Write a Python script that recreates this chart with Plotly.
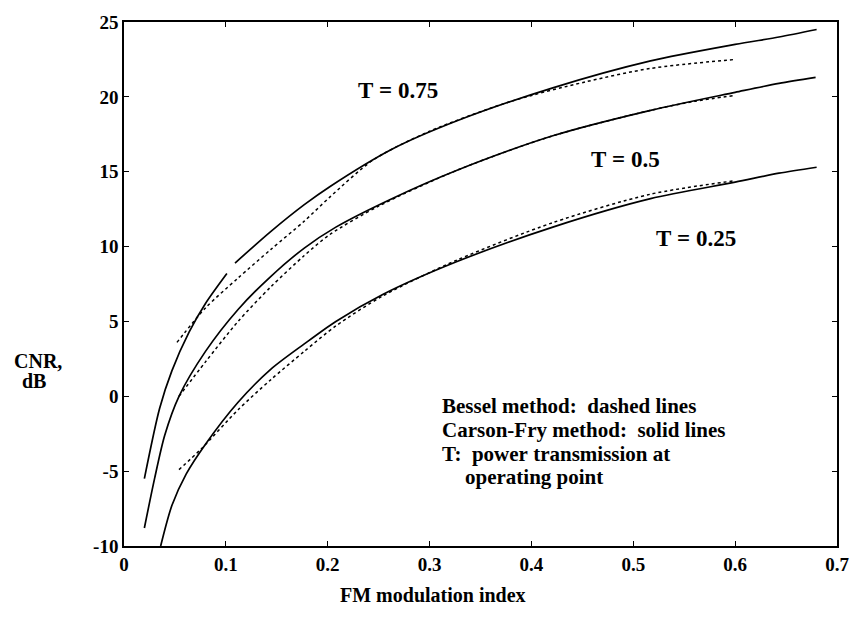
import plotly.graph_objects as go

# ---- data ----
x_s075 = [0.020, 0.035, 0.047, 0.064, 0.080, 0.101, None, 0.109, 0.144, 0.177, 0.202, 0.263, 0.327, 0.421, 0.517, 0.600, 0.643, 0.680]
y_s075 = [-5.5, -0.8, 1.7, 4.3, 6.2, 8.2, None, 8.9, 11.0, 12.8, 14.0, 16.5, 18.4, 20.6, 22.4, 23.5, 24.0, 24.5]

x_d075 = [0.052, 0.080, 0.112, 0.144, 0.177, 0.202, 0.245, 0.300, 0.380, 0.453, 0.517, 0.600]
y_d075 = [3.6, 5.9, 7.9, 9.8, 11.7, 13.3, 15.8, 17.7, 19.7, 21.0, 21.9, 22.5]

x_s050 = [0.020, 0.030, 0.040, 0.054, 0.080, 0.112, 0.144, 0.177, 0.208, 0.263, 0.327, 0.421, 0.517, 0.600, 0.643, 0.679]
y_s050 = [-8.8, -5.5, -2.6, 0.0, 3.0, 5.8, 8.0, 9.9, 11.3, 13.2, 15.1, 17.4, 19.1, 20.3, 20.9, 21.3]

x_d050 = [0.054, 0.080, 0.112, 0.144, 0.177, 0.202, 0.250, 0.327, 0.421, 0.517, 0.560, 0.600]
y_d050 = [0.0, 2.3, 5.0, 7.3, 9.4, 10.8, 12.7, 15.1, 17.4, 19.1, 19.7, 20.1]

x_s025 = [0.036, 0.047, 0.061, 0.080, 0.112, 0.144, 0.177, 0.208, 0.254, 0.327, 0.421, 0.517, 0.600, 0.643, 0.680]
y_s025 = [-10.0, -7.3, -5.2, -3.2, -0.4, 1.8, 3.5, 5.0, 6.8, 9.0, 11.3, 13.2, 14.3, 14.9, 15.3]

x_d025 = [0.054, 0.076, 0.112, 0.144, 0.177, 0.208, 0.254, 0.327, 0.421, 0.517, 0.600]
y_d025 = [-4.9, -3.5, -0.9, 1.1, 3.0, 4.7, 6.7, 9.1, 11.6, 13.5, 14.4]

x_ticks = [0, 0.1, 0.2, 0.3, 0.4, 0.5, 0.6, 0.7]
x_tick_labels = ["0", "0.1", "0.2", "0.3", "0.4", "0.5", "0.6", "0.7"]
y_ticks = [-10, -5, 0, 5, 10, 15, 20, 25]
y_tick_labels = ["-10", "-5", "0", "5", "10", "15", "20", "25"]

curve_labels = ["T = 0.75", "T = 0.5", "T = 0.25"]
curve_label_px = [0.3255, 0.652, 0.743]   # paper coords (left edge)
curve_label_py = [0.869, 0.737, 0.587]    # paper coords (middle)

note_lines = ["Bessel method:  dashed lines",
              "Carson-Fry method:  solid lines",
              "T:  power transmission at",
              "operating point"]
note_px = [0.443, 0.443, 0.443, 0.476]
note_py = [0.268, 0.221, 0.176, 0.131]

FONT = "Liberation Serif"

fig = go.Figure()
solid = dict(color="black", width=1.7)
dashed = dict(color="black", width=1.5, dash="3px,3px")

for xs, ys, ln in [(x_s075, y_s075, solid), (x_d075, y_d075, dashed),
                   (x_s050, y_s050, solid), (x_d050, y_d050, dashed),
                   (x_s025, y_s025, solid), (x_d025, y_d025, dashed)]:
    fig.add_trace(go.Scatter(x=xs, y=ys, mode="lines",
                             line=dict(shape="spline", smoothing=0.8, **ln),
                             connectgaps=False, showlegend=False, hoverinfo="skip"))


def bold(s):
    return "<b>" + s.replace(" ", "&nbsp;") + "</b>"


for t, xx, yy in zip(curve_labels, curve_label_px, curve_label_py):
    fig.add_annotation(x=xx, y=yy, xref="paper", yref="paper", text=bold(t),
                       showarrow=False, xanchor="left", yanchor="middle",
                       font=dict(family=FONT, size=23, color="black"))

for t, xx, yy in zip(note_lines, note_px, note_py):
    fig.add_annotation(x=xx, y=yy, xref="paper", yref="paper", text=bold(t),
                       showarrow=False, xanchor="left", yanchor="middle",
                       font=dict(family=FONT, size=21, color="black"))

fig.add_annotation(x=-0.157, y=0.353, xref="paper", yref="paper", text=bold("CNR,"),
                   showarrow=False, xanchor="left", yanchor="middle",
                   font=dict(family=FONT, size=20, color="black"))
fig.add_annotation(x=-0.146, y=0.315, xref="paper", yref="paper", text=bold("dB"),
                   showarrow=False, xanchor="left", yanchor="middle",
                   font=dict(family=FONT, size=20, color="black"))

fig.add_annotation(x=0.434, y=-0.094, xref="paper", yref="paper",
                   text=bold("FM modulation index"), showarrow=False,
                   xanchor="center", yanchor="middle",
                   font=dict(family=FONT, size=20, color="black"))

axis_common = dict(showgrid=False, zeroline=False, showline=True, linecolor="black",
                   linewidth=1.6, mirror="ticks", ticks="inside", ticklen=5,
                   tickcolor="black", tickwidth=1.3,
                   tickfont=dict(family=FONT, size=19, color="black"))

fig.update_xaxes(range=[0, 0.7], tickvals=x_ticks,
                 ticktext=["<b>" + s + "</b>" for s in x_tick_labels], ticklabelstandoff=0,
                 **axis_common)
fig.update_yaxes(range=[-10, 25], tickvals=y_ticks,
                 ticktext=["<b>" + s + "</b>" for s in y_tick_labels], ticklabelstandoff=0,
                 **axis_common)

fig.update_layout(width=861, height=632, margin=dict(l=124, r=12, t=13, b=86),
                  plot_bgcolor="white", paper_bgcolor="white", showlegend=False)

fig.write_html("out.html", config={"displayModeBar": False},
               post_script="document.body.style.margin='0';")
